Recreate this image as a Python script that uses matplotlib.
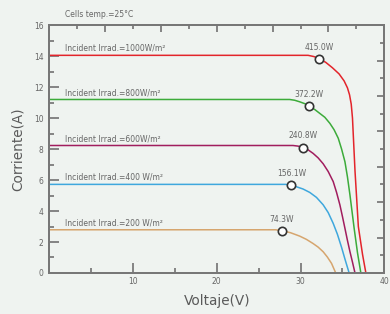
import matplotlib.pyplot as plt

bg = '#eff3f0'
grey = '#666666'

# curves (voltage V, current A)
v_1000 = [0, 30.9, 31.6, 32.2, 33.0, 33.8, 34.6, 35.2, 35.6, 35.85, 36.05, 36.2, 36.5, 36.9, 37.4, 37.8]
i_1000 = [14.05, 14.05, 13.97, 13.83, 13.6, 13.25, 12.85, 12.4, 11.95, 11.5, 10.9, 10.0, 6.6, 3.0, 1.2, 0]
v_800 = [0, 28.7, 29.3, 29.9, 30.5, 31.05, 31.7, 32.3, 32.9, 33.5, 34.0, 34.5, 34.9, 35.3, 35.6, 35.9, 36.4, 36.8, 37.2]
i_800 = [11.2, 11.2, 11.15, 11.05, 10.93, 10.77, 10.55, 10.3, 10.05, 9.66, 9.25, 8.7, 8.0, 7.18, 6.2, 5.03, 2.88, 1.3, 0]
v_600 = [0, 29.1, 29.7, 30.26, 30.9, 31.5, 32.1, 32.7, 33.3, 33.9, 34.3, 34.7, 35.0, 35.3, 35.6, 35.9, 36.2, 36.5]
i_600 = [8.23, 8.23, 8.19, 8.1, 7.95, 7.72, 7.43, 7.05, 6.55, 5.9, 5.2, 4.39, 3.65, 2.88, 2.1, 1.37, 0.7, 0]
v_400 = [0, 28.2, 28.9, 29.6, 30.3, 31.1, 31.9, 32.7, 33.3, 33.9, 34.4, 34.9, 35.3, 35.8]
i_400 = [5.72, 5.72, 5.68, 5.55, 5.42, 5.2, 4.88, 4.4, 3.9, 3.2, 2.5, 1.65, 0.9, 0]
v_200 = [0, 27.0, 27.75, 28.8, 29.9, 30.7, 31.5, 32.1, 32.7, 33.2, 33.7, 34.2]
i_200 = [2.79, 2.79, 2.74, 2.6, 2.38, 2.17, 1.9, 1.67, 1.37, 1.03, 0.62, 0]

# maximum power points
mpp_v = [32.2, 31.05, 30.26, 28.9, 27.75]
mpp_i = [13.83, 10.77, 8.1, 5.68, 2.72]
mpp_lbl = ['415.0W', '372.2W', '240.8W', '156.1W', '74.3W']

irrad = ['Incident Irrad.=1000W/m²', 'Incident Irrad.=800W/m²', 'Incident Irrad.=600W/m²',
         'Incident Irrad.=400 W/m²', 'Incident Irrad.=200 W/m²']
colors = ['#e3242b', '#3cab3a', '#a11d5e', '#3ea7dd', '#d6a56e']

curves = [(v_1000, i_1000), (v_800, i_800), (v_600, i_600), (v_400, i_400), (v_200, i_200)]

fig = plt.figure(figsize=(3.9, 3.14), dpi=100, facecolor=bg)
ax = fig.add_axes([0.1264, 0.1306, 0.859, 0.7894])
ax.set_facecolor(bg)

for (v, i), c, lbl in zip(curves, colors, irrad):
    ax.plot(v, i, color=c, lw=1.1, solid_joinstyle='round', zorder=2)
    ax.text(1.9, i[0] + 0.45, lbl, fontsize=5.5, color=grey, va='center', ha='left')

ax.plot(mpp_v, mpp_i, 'o', ms=6, mfc='white', mec='#333333', mew=1.2, zorder=3)
for x, y, t in zip(mpp_v, mpp_i, mpp_lbl):
    ax.text(x, y + 0.75, t, fontsize=5.5, color=grey, ha='center', va='center')

ax.text(1.9, 16.7, 'Cells temp.=25°C', fontsize=5.5, color=grey, va='center', ha='left')

ax.set_xlim(0, 40)
ax.set_ylim(0, 16)
ax.set_xticks([10, 20, 30, 40])
ax.set_xticks([5, 15, 25, 35], minor=True)
ax.set_yticks(range(0, 17, 2))
ax.set_yticks(range(1, 16, 2), minor=True)
ax.tick_params(direction='in', colors=grey, labelsize=5.5, width=1.1, length=7, pad=4)
ax.tick_params(which='minor', direction='in', colors=grey, width=1.1, length=3.5)
ax.tick_params(axis='x', pad=3)
ax.set_xlabel('Voltaje(V)', fontsize=9.8, color='#5a5a5a', labelpad=6)
ax.set_ylabel('Corriente(A)', fontsize=9.8, color='#5a5a5a', labelpad=7)

# extra ticks on the top and right spines
top = ax.twiny()
top.set_xlim(0, 12)
top.set_xticks([2, 4, 6, 8, 10])
top.set_xticks([1, 3, 5, 7, 9, 11], minor=True)
top.tick_params(direction='in', colors=grey, labeltop=False, width=1.1, length=5)
top.tick_params(which='minor', direction='in', colors=grey, width=1.1, length=3)
right = ax.twinx()
right.set_ylim(0, 14)
right.set_yticks([2, 4, 6, 8, 10, 12])
right.set_yticks([1, 3, 5, 7, 9, 11, 13], minor=True)
right.tick_params(direction='in', colors=grey, labelright=False, width=1.1, length=5)
right.tick_params(which='minor', direction='in', colors=grey, width=1.1, length=3)

for a in (ax, top, right):
    for s in a.spines.values():
        s.set_color('#777777')
        s.set_linewidth(1.3)

fig.savefig('out.png', dpi=100, facecolor=bg)
